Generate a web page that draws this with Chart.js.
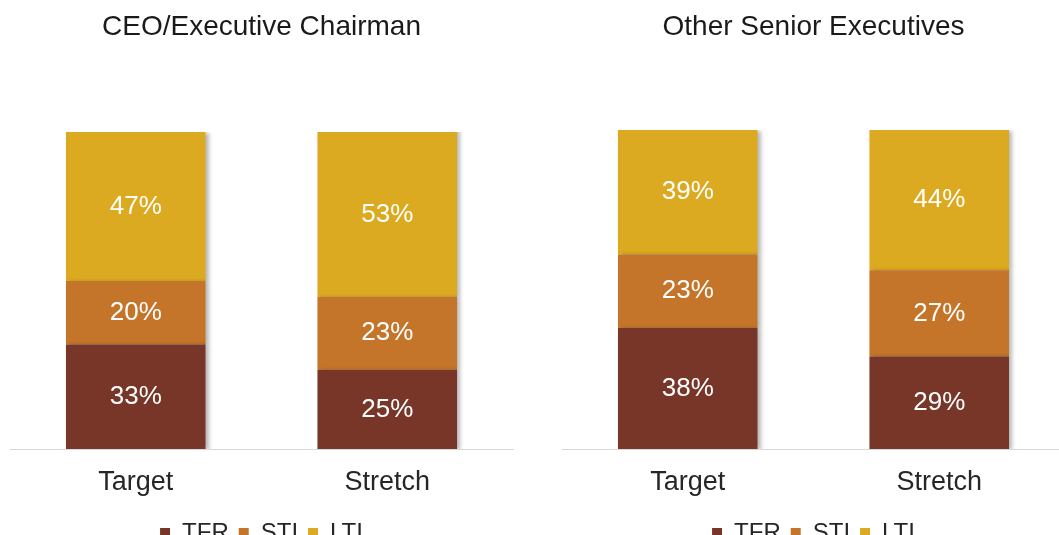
<!DOCTYPE html>
<html>
<head>
<meta charset="utf-8">
<script src="https://cdn.jsdelivr.net/npm/chart.js@4.4.0/dist/chart.umd.min.js"></script>
<style>
  html, body { margin: 0; padding: 0; background: #fff; }
  body { width: 1059px; height: 535px; overflow: hidden; position: relative; }
  canvas { position: absolute; top: 0; }
  #ceoChart { left: 0; }
  #seniorChart { left: 552px; }
</style>
</head>
<body>
<canvas id="ceoChart" width="530" height="560"></canvas>
<canvas id="seniorChart" width="530" height="560"></canvas>
<script>
const categories = ['Target', 'Stretch']
const seriesNames = ['TFR', 'STI', 'LTI']
const seriesColors = ['#773628', '#C47529', '#DCAA20']

// CEO / Executive Chairman
const ceoTFR = [33, 25]
const ceoSTI = [20, 23]
const ceoLTI = [47, 53]

// Other Senior Executives
const seniorTFR = [38, 29]
const seniorSTI = [23, 27]
const seniorLTI = [39, 44]

const fontFamily = "'Liberation Sans', Arial, sans-serif"

// soft shadow on the right side of the bars
const barShadow = {
  id: 'barShadow',
  beforeDatasetsDraw(chart) {
    const ctx = chart.ctx
    ctx.save()
    ctx.shadowColor = 'rgba(0, 0, 0, 0.28)'
    ctx.shadowBlur = 4
    ctx.shadowOffsetX = 3
    ctx.shadowOffsetY = 1
  },
  afterDatasetsDraw(chart) {
    chart.ctx.restore()
  },
}

// white percentage labels in the middle of each segment
const segmentLabels = {
  id: 'segmentLabels',
  afterDraw(chart) {
    const ctx = chart.ctx
    ctx.save()
    ctx.fillStyle = '#ffffff'
    ctx.font = `26px ${fontFamily}`
    ctx.textAlign = 'center'
    ctx.textBaseline = 'middle'
    chart.data.datasets.forEach((ds, i) => {
      const meta = chart.getDatasetMeta(i)
      meta.data.forEach((bar, j) => {
        const top = Math.max(bar.y, chart.chartArea.top)
        ctx.fillText(`${ds.data[j]}%`, bar.x, (top + bar.base) / 2)
      })
    })
    ctx.restore()
  },
}

function buildChart(canvasId, title, tfr, sti, lti, topGap) {
  const values = [tfr, sti, lti]
  const ctx = document.getElementById(canvasId).getContext('2d')
  return new Chart(ctx, {
    type: 'bar',
    data: {
      labels: categories,
      datasets: seriesNames.map((name, i) => ({
        label: name,
        data: values[i],
        backgroundColor: seriesColors[i],
        borderWidth: 0,
        categoryPercentage: 1,
        barPercentage: 0.555,
      })),
    },
    options: {
      responsive: false,
      animation: false,
      layout: {
        padding: { left: 10, right: 17, top: 0, bottom: 5 },
      },
      plugins: {
        title: {
          display: true,
          text: title,
          color: '#1a1a1a',
          font: { family: fontFamily, size: 28, weight: 'normal' },
          padding: { top: 10, bottom: topGap },
        },
        legend: {
          position: 'bottom',
          labels: {
            color: '#262626',
            font: { family: fontFamily, size: 24 },
            boxWidth: 10,
            boxHeight: 10,
            padding: 10,
          },
        },
        tooltip: { enabled: false },
      },
      scales: {
        x: {
          stacked: true,
          grid: { display: false, drawTicks: false },
          border: { display: true, color: '#d9d9d9', width: 1 },
          ticks: {
            color: '#262626',
            padding: 17,
            font: { family: fontFamily, size: 27 },
          },
          afterFit(scale) {
            scale.height = 62
          },
        },
        y: {
          stacked: true,
          display: false,
          min: 0,
          max: 100,
        },
      },
    },
    plugins: [barShadow, segmentLabels],
  })
}

buildChart('ceoChart', 'CEO/Executive Chairman', ceoTFR, ceoSTI, ceoLTI, 88.4)
buildChart('seniorChart', 'Other Senior Executives', seniorTFR, seniorSTI, seniorLTI, 86.4)
</script>
</body>
</html>
